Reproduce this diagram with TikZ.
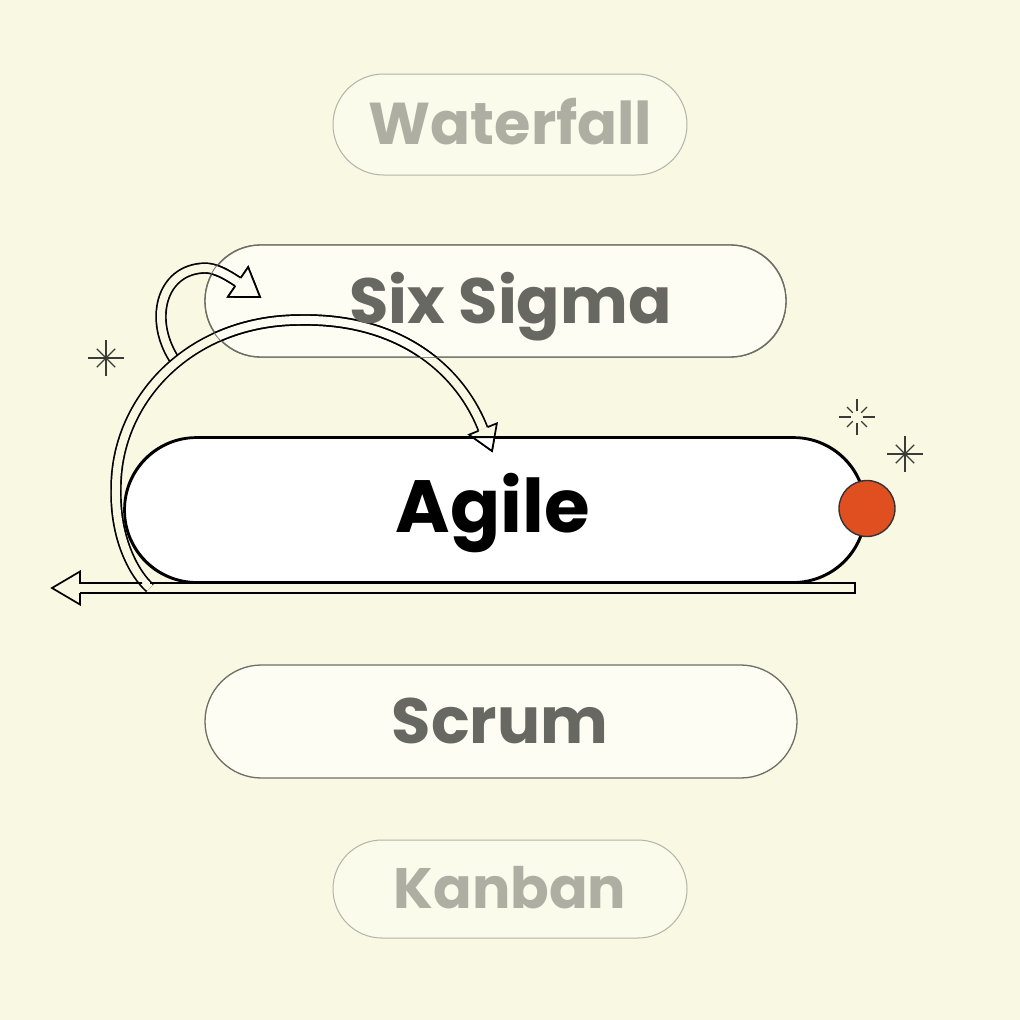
\documentclass[tikz,border=0pt]{standalone}
\usepackage{fontspec}
\setmainfont{Poppins}
\usetikzlibrary{calc}
\definecolor{bg}{HTML}{F9F8E3}
\definecolor{palefill}{HTML}{FBFBEC}
\definecolor{litefill}{HTML}{FDFDF4}
\definecolor{paleline}{HTML}{B3B3A6}
\definecolor{midline}{HTML}{6E6E66}
\definecolor{paletext}{HTML}{AEAEA2}
\definecolor{midtext}{HTML}{686862}
\definecolor{dotc}{HTML}{E04F20}
\definecolor{sparkc}{HTML}{3A3A36}
\tikzset{
  farpill/.style={draw=paleline,line width=1pt,fill=palefill,inner sep=0pt},
  nearpill/.style={draw=midline,line width=1.3pt,fill=litefill,inner sep=0pt},
  mainpill/.style={draw=black,line width=1.8pt,fill=white,inner sep=0pt},
  lbl/.style={inner sep=0pt,anchor=base},
  band/.style={draw=black,line width=1.7pt,double=#1,double distance=8pt},
  rim/.style={draw=black,line width=1.7pt,line join=miter},
  spark/.style={draw=sparkc,line width=1.3pt},
}
% hollow arrow head: base mid, tip, half width, interior
\newcommand{\headat}[4]{%
  \fill[#4] ($(#1)!#3!90:(#2)$) -- (#2) -- ($(#1)!#3!-90:(#2)$) -- cycle;
  \draw[rim] ($(#1)!4.85pt!90:(#2)$) -- ($(#1)!#3!90:(#2)$) -- (#2)
    -- ($(#1)!#3!-90:(#2)$) -- ($(#1)!4.85pt!-90:(#2)$);}
% the two curved bands
\newcommand{\curlbands}[1]{%
  \draw[band=#1] (loopstart) .. controls (148,322) and (160,269) .. (205,268)
    .. controls (215,268) and (226,274) .. (loophead);
  \draw[band=#1] (lowjoin) .. controls (135,575) and (115,540) .. (116,490)
    .. controls (115,400) and (190,320) .. (300,320)
    .. controls (400,318) and (460,370) .. (bighead);
  \headat{loophead}{looptip}{18pt}{#1}
  \headat{bighead}{bigtip}{15pt}{#1}}

\begin{document}
\begin{tikzpicture}[x=1pt,y=-1pt]
\fill[bg] (0,0) rectangle (1020,1020);
\useasboundingbox (0,0) rectangle (1020,1020);

% pills
\node[farpill,minimum width=354pt,minimum height=101pt,rounded corners=50.5pt] (waterfall) at (510,124.5) {};
\node[nearpill,minimum width=581pt,minimum height=112pt,rounded corners=56pt] (sixsigma) at (495.5,301) {};
\node[mainpill,minimum width=740pt,minimum height=144pt,rounded corners=72pt] (agile) at (495,510) {};
\node[nearpill,minimum width=592pt,minimum height=113pt,rounded corners=56.5pt] (scrum) at (501,721.5) {};
\node[farpill,minimum width=354pt,minimum height=98pt,rounded corners=49pt] (kanban) at (510,889) {};

\coordinate (loopstart) at (176,362);
\coordinate (loophead) at (238,282);
\coordinate (looptip) at (260,297);
\coordinate (lowjoin) at (150,588);
\coordinate (bighead) at (483,429);
\coordinate (bigtip) at (492,451);

% arrows, then again inside the two pills they cross
\curlbands{bg}
\begin{scope}
  \clip[rounded corners=56pt] (sixsigma.south west) rectangle (sixsigma.north east);
  \curlbands{litefill}
  \draw[midline,line width=1.3pt,rounded corners=56pt] (sixsigma.south west) rectangle (sixsigma.north east);
\end{scope}
\begin{scope}
  \clip[rounded corners=72pt] (agile.south west) rectangle (agile.north east);
  \curlbands{white}
\end{scope}
\draw[black,line width=1.8pt,rounded corners=72pt] (agile.south west) rectangle (agile.north east);

% straight band under Agile and the left arrow
\coordinate (bandend) at (855,588);
\coordinate (lefthead) at (80,588);
\coordinate (lefttip) at (52,588);
\draw[rim] (lefthead|-0,593) -- (bandend|-0,593) -- (bandend|-0,583) -- (lowjoin|-0,583);
\draw[rim] (142,583) -- (lefthead|-0,583) -- ++(0,-11.5) -- (lefttip) -- (80,604.5) -- (lefthead|-0,593);

% labels
\node[lbl,text=paletext,font=\fontsize{59pt}{68pt}\selectfont\bfseries] (waterfall-t) at (510.5,144) {Waterfall};
\node[lbl,text=midtext,font=\fontsize{64pt}{74pt}\selectfont\bfseries] (sixsigma-t) at (510.5,323) {Six Sigma};
\node[lbl,text=black,font=\fontsize{74pt}{84pt}\selectfont\bfseries] (agile-t) at (493,532) {Agile};
\node[lbl,text=midtext,font=\fontsize{64pt}{74pt}\selectfont\bfseries] (scrum-t) at (500,743) {Scrum};
\node[lbl,text=paletext,font=\fontsize{57pt}{66pt}\selectfont\bfseries] (kanban-t) at (510,908) {Kanban};

% dot and sparkles
\node[circle,fill=dotc,draw=black!80,line width=1.4pt,minimum size=56pt,inner sep=0pt] (dot) at (867,508.5) {};
\coordinate (starL) at (106,358);
\coordinate (starR) at (905,454);
\coordinate (burst) at (857,417);
\foreach \s in {starL,starR}{
  \foreach \a in {0,90,180,270} \draw[spark] (\s) -- ++(\a:18);
  \foreach \a in {45,135,225,315} \draw[spark] (\s) -- ++(\a:13);}
\foreach \a in {0,90,180,270} \draw[spark] ($(burst)+(\a:6)$) -- ($(burst)+(\a:18)$);
\foreach \a in {45,135,225,315} \draw[spark] ($(burst)+(\a:6)$) -- ($(burst)+(\a:14)$);
\end{tikzpicture}
\end{document}
